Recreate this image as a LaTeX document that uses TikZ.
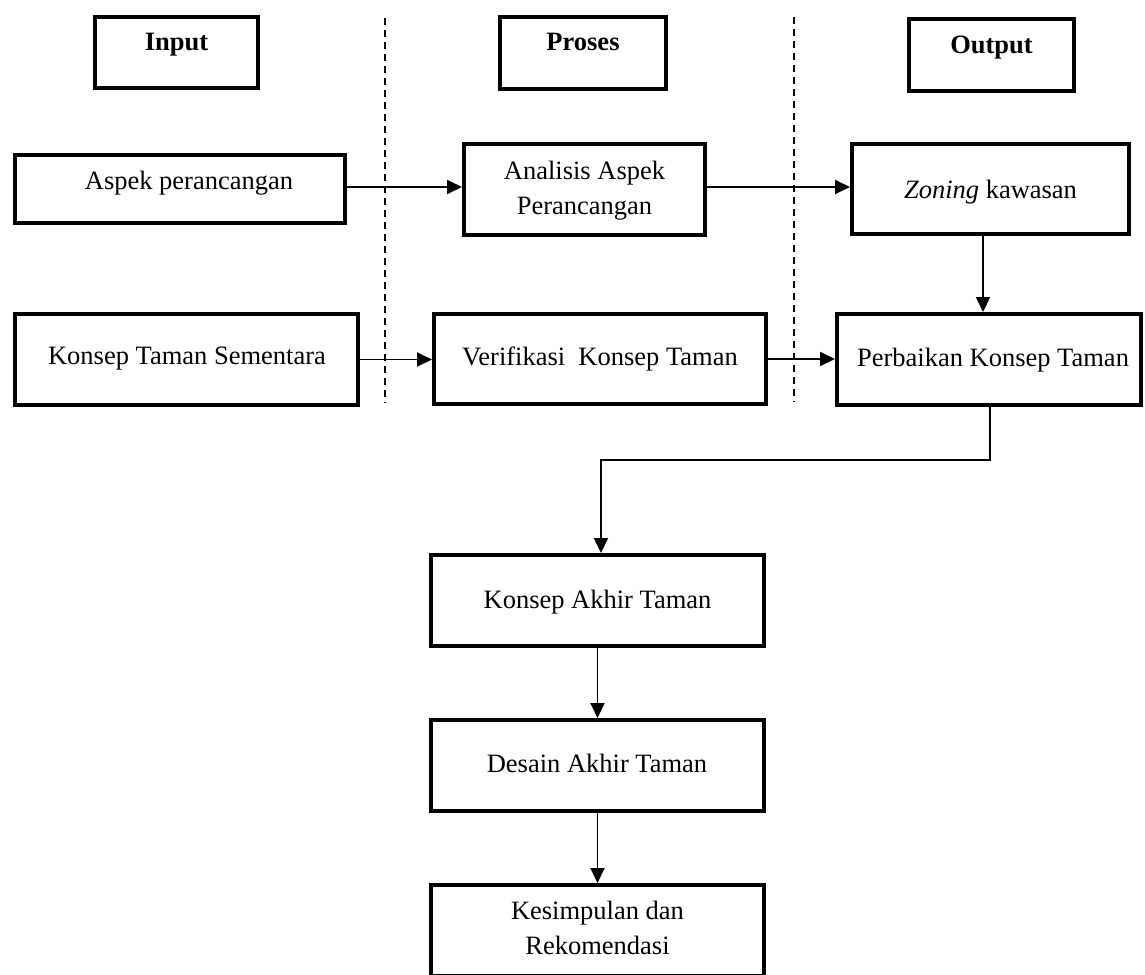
\documentclass[tikz,border=0pt]{standalone}
\usepackage{fontspec}
\setmainfont{Liberation Serif}
\usetikzlibrary{arrows.meta}
\begin{document}
\begin{tikzpicture}[x=1pt,y=-1pt,
  box/.style={draw, line width=4pt, inner sep=0pt, fill=white},
  lbl/.style={font=\fontsize{26.5}{35}\selectfont, anchor=base, inner sep=0pt, align=center},
  hdr/.style={lbl, font=\fontsize{26.5}{35}\selectfont\bfseries},
  arr/.style={line width=1.9pt, -{Triangle[length=15pt,width=14pt]}},
  sepline/.style={line width=1.5pt, dash pattern=on 7pt off 5pt}
]
\clip (0,0) rectangle (1145,974);
\fill[white] (0,0) rectangle (1145,974);

% dashed separators
\coordinate (s1a) at (385,18);
\coordinate (s1b) at (385,403);
\coordinate (s2a) at (794,17);
\coordinate (s2b) at (794,402);
\draw[sepline] (s1a) -- (s1b);
\draw[sepline] (s2a) -- (s2b);

% header boxes
\node[box, minimum width=163pt, minimum height=71pt] (input) at (176.5,52.5) {};
\node[hdr] (inputT) at (176.5,51) {Input};
\node[box, minimum width=166pt, minimum height=72pt] (proses) at (583,53) {};
\node[hdr] (prosesT) at (583,51) {Proses};
\node[box, minimum width=165pt, minimum height=72pt] (output) at (991.5,55) {};
\node[hdr] (outputT) at (991.5,53) {Output};

% row 1
\node[box, minimum width=330pt, minimum height=68pt] (aspek) at (180,189) {};
\node[lbl] (aspekT) at (189,189) {Aspek perancangan};
\node[box, minimum width=241pt, minimum height=91pt] (analisis) at (584.5,189.5) {};
\node[lbl] (analisisT) at (584.5,214.5) {Analisis Aspek\\Perancangan};
\node[box, minimum width=277pt, minimum height=90pt] (zoning) at (990.5,189) {};
\node[lbl] (zoningT) at (990.5,198) {\textit{Zoning} kawasan};

% row 2
\node[box, minimum width=343pt, minimum height=91pt] (sementara) at (186.5,359.5) {};
\node[lbl] (sementaraT) at (187,364) {Konsep Taman Sementara};
\node[box, minimum width=332pt, minimum height=90pt] (verifikasi) at (600,359) {};
\node[lbl] (verifikasiT) at (600,365) {Verifikasi\ \ Konsep Taman};
\node[box, minimum width=304pt, minimum height=91pt] (perbaikan) at (989,359.5) {};
\node[lbl] (perbaikanT) at (993,366) {Perbaikan Konsep Taman};

% column
\node[box, minimum width=333pt, minimum height=91pt] (akhir) at (597.5,600.5) {};
\node[lbl] (akhirT) at (597.5,608) {Konsep Akhir Taman};
\node[box, minimum width=333pt, minimum height=91pt] (desain) at (597.5,765.5) {};
\node[lbl] (desainT) at (597,772) {Desain Akhir Taman};
\node[box, minimum width=333pt, minimum height=91pt] (kesimpulan) at (597.5,930.5) {};
\node[lbl] (kesimpulanT) at (597.5,954) {Kesimpulan dan\\Rekomendasi};

% connectors
\draw[arr] ([yshift=2pt]aspek.east) -- ([yshift=2pt]aspek.east -| analisis.west);
\draw[arr] ([yshift=2.5pt]analisis.east) -- ([yshift=2.5pt]analisis.east -| zoning.west);
\draw[arr] (sementara.east) -- (sementara.east -| verifikasi.west);
\draw[arr] (verifikasi.east) -- (verifikasi.east -| perbaikan.west);
\draw[arr] ([xshift=-7.5pt]zoning.south) -- ([xshift=-7.5pt]zoning.south |- perbaikan.north);
\coordinate (bend) at (601,460);
\draw[arr] ([xshift=1pt]perbaikan.south) |- (bend) -- (bend |- akhir.north);
\draw[arr] (akhir.south) -- (desain.north);
\draw[arr] (desain.south) -- (kesimpulan.north);
\end{tikzpicture}
\end{document}
